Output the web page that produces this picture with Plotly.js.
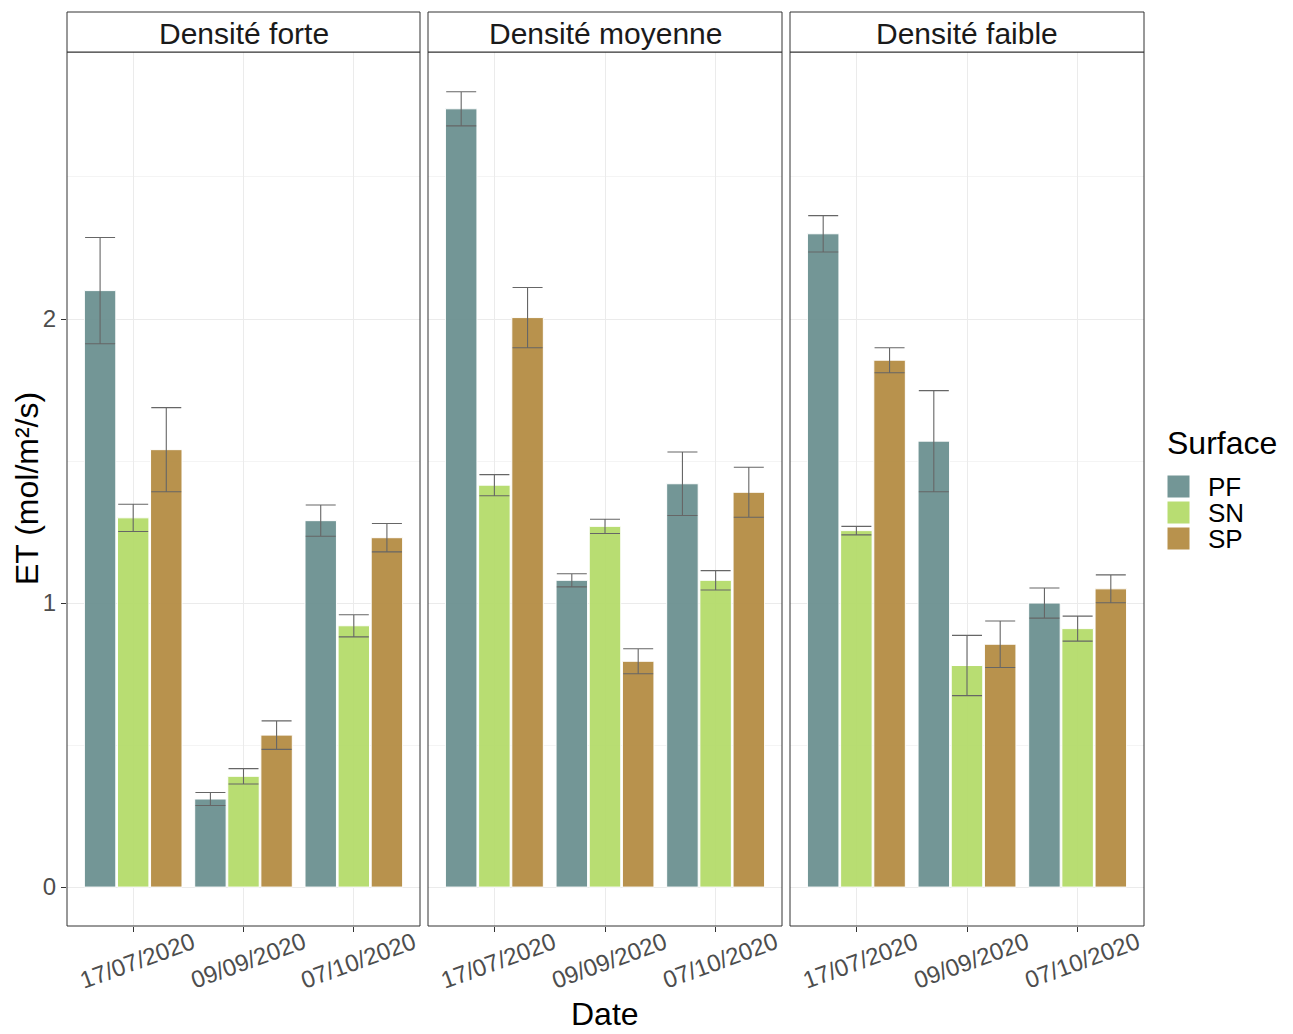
<!DOCTYPE html>
<html>
<head>
<meta charset="utf-8">
<script src="https://cdn.plot.ly/plotly-3.0.1.min.js"></script>
<style>html,body{margin:0;padding:0;background:#fff;}#chart{width:1293px;height:1034px;}</style>
</head>
<body>
<div id="chart"></div>
<script>
// ---- data ----
const panels = ["Densité forte", "Densité moyenne", "Densité faible"];
const dates = ["17/07/2020", "09/09/2020", "07/10/2020"];
const surfaces = ["PF", "SN", "SP"];
const surfaceColors = ["#6f9393", "#b6dc6e", "#b68f48"];

// means per panel: [PF, SN, SP] each over dates
const forte_PF = [2.10, 0.31, 1.29];
const forte_SN = [1.30, 0.39, 0.92];
const forte_SP = [1.54, 0.535, 1.23];
const forte_PF_se = [0.187, 0.023, 0.055];
const forte_SN_se = [0.048, 0.027, 0.039];
const forte_SP_se = [0.148, 0.050, 0.050];

const moyenne_PF = [2.74, 1.08, 1.42];
const moyenne_SN = [1.415, 1.27, 1.08];
const moyenne_SP = [2.005, 0.795, 1.39];
const moyenne_PF_se = [0.060, 0.023, 0.112];
const moyenne_SN_se = [0.037, 0.025, 0.034];
const moyenne_SP_se = [0.106, 0.044, 0.088];

const faible_PF = [2.30, 1.57, 1.00];
const faible_SN = [1.255, 0.78, 0.91];
const faible_SP = [1.855, 0.855, 1.05];
const faible_PF_se = [0.064, 0.178, 0.053];
const faible_SN_se = [0.015, 0.106, 0.044];
const faible_SP_se = [0.044, 0.082, 0.049];

const means = [
  [forte_PF, forte_SN, forte_SP],
  [moyenne_PF, moyenne_SN, moyenne_SP],
  [faible_PF, faible_SN, faible_SP]
];
const ses = [
  [forte_PF_se, forte_SN_se, forte_SP_se],
  [moyenne_PF_se, moyenne_SN_se, moyenne_SP_se],
  [faible_PF_se, faible_SN_se, faible_SP_se]
];

// ---- geometry ----
const W = 1293, H = 1034;
const plotL = 67, plotR = 1144, plotT = 52, plotB = 926;
const pw = plotR - plotL, ph = plotB - plotT;
const panelPx = [[67, 420], [428, 782], [790, 1144]];
const domains = panelPx.map(p => [(p[0] - plotL) / pw, (p[1] - plotL) / pw]);
const stripTop = 1 + (plotT - 12) / ph;
const px2x = v => (v - plotL) / pw;
const px2y = v => (plotB - v) / ph;
const FONT = "Liberation Sans, Arial, sans-serif";

const traces = [];
for (let p = 0; p < 3; p++) {
  const xa = p === 0 ? "x" : "x" + (p + 1);
  const ya = p === 0 ? "y" : "y" + (p + 1);
  for (let s = 0; s < 3; s++) {
    traces.push({
      type: "bar",
      name: surfaces[s],
      x: dates,
      y: means[p][s],
      xaxis: xa,
      yaxis: ya,
      legendgroup: surfaces[s],
      showlegend: false,
      offsetgroup: surfaces[s],
      marker: {color: surfaceColors[s], opacity: 0.97, line: {color: "#ffffff", width: 1}},
      error_y: {type: "data", array: ses[p][s], visible: true, color: "#666666", thickness: 1.1, width: 15},
      hoverinfo: "y+name"
    });
  }
}

const tickFont = {family: FONT, size: 24, color: "#4d4d4d"};
const yrange = [-0.137, 2.94];

const layout = {
  width: W, height: H,
  paper_bgcolor: "#ffffff",
  plot_bgcolor: "#ffffff",
  margin: {l: plotL, r: W - plotR, t: plotT, b: H - plotB, pad: 0},
  barmode: "group",
  bargap: 0.1,
  bargroupgap: 0.05,
  showlegend: false,
  shapes: [],
  annotations: [],
  font: {family: FONT}
};

for (let p = 0; p < 3; p++) {
  const xk = p === 0 ? "xaxis" : "xaxis" + (p + 1);
  const yk = p === 0 ? "yaxis" : "yaxis" + (p + 1);
  const xa = p === 0 ? "x" : "x" + (p + 1);
  const ya = p === 0 ? "y" : "y" + (p + 1);
  layout[xk] = {
    domain: domains[p],
    anchor: ya,
    type: "category",
    range: [-0.6, 2.6],
    showgrid: true, gridcolor: "#ebebeb", gridwidth: 1,
    zeroline: false,
    showline: false,
    ticks: "outside", ticklen: 5, tickcolor: "#333333", tickwidth: 1,
    showticklabels: false,
    fixedrange: true
  };
  layout[yk] = {
    anchor: xa,
    range: yrange,
    tick0: 0, dtick: 1,
    showgrid: true, gridcolor: "#ebebeb", gridwidth: 1,
    minor: {dtick: 0.5, tick0: 0, showgrid: true, gridcolor: "#f4f4f4", gridwidth: 1, ticks: ""},
    zeroline: false,
    showline: false,
    ticks: p === 0 ? "outside" : "",
    ticklen: 5, tickcolor: "#333333", tickwidth: 1,
    showticklabels: p === 0,
    tickfont: tickFont,
    fixedrange: true
  };
  if (p > 0) layout[yk].matches = "y";

  // rotated date labels, centred under each tick
  for (let d = 0; d < dates.length; d++) {
    layout.annotations.push({
      xref: xa, yref: "paper",
      x: dates[d], y: px2y(960),
      xanchor: "center", yanchor: "middle",
      xshift: 4,
      showarrow: false, textangle: -20,
      text: dates[d],
      font: tickFont
    });
  }

  // panel border
  layout.shapes.push({type: "rect", xref: "paper", yref: "paper",
    x0: domains[p][0], x1: domains[p][1], y0: 0, y1: 1,
    line: {color: "#333333", width: 1}, fillcolor: "rgba(0,0,0,0)", layer: "above"});
  // strip
  layout.shapes.push({type: "rect", xref: "paper", yref: "paper",
    x0: domains[p][0], x1: domains[p][1], y0: 1, y1: stripTop,
    line: {color: "#333333", width: 1}, fillcolor: "#ffffff", layer: "above"});
  layout.annotations.push({xref: "paper", yref: "paper",
    x: (domains[p][0] + domains[p][1]) / 2, y: px2y(34),
    xanchor: "center", yanchor: "middle", showarrow: false,
    text: panels[p],
    font: {family: FONT, size: 30, color: "#1a1a1a"}});
}

// y axis title
layout.annotations.push({xref: "paper", yref: "paper",
  x: px2x(27), y: px2y(489),
  xanchor: "center", yanchor: "middle", showarrow: false, textangle: -90,
  text: "ET (mol/m²/s)",
  font: {family: FONT, size: 32, color: "#000"}});

// x axis title
layout.annotations.push({xref: "paper", yref: "paper",
  x: px2x(605), y: px2y(1014),
  xanchor: "center", yanchor: "middle", showarrow: false,
  text: "Date",
  font: {family: FONT, size: 32, color: "#000"}});

// legend (drawn as shapes + text)
layout.annotations.push({xref: "paper", yref: "paper",
  x: px2x(1165), y: px2y(443),
  xanchor: "left", yanchor: "middle", showarrow: false,
  text: "Surface",
  font: {family: FONT, size: 32, color: "#000"}});
const legTops = [475, 501, 527];
for (let s = 0; s < surfaces.length; s++) {
  layout.shapes.push({type: "rect", xref: "paper", yref: "paper",
    x0: px2x(1167), x1: px2x(1190), y0: px2y(legTops[s] + 23), y1: px2y(legTops[s]),
    line: {color: "#ffffff", width: 1}, fillcolor: surfaceColors[s], opacity: 0.97});
  layout.annotations.push({xref: "paper", yref: "paper",
    x: px2x(1206), y: px2y(legTops[s] + 12),
    xanchor: "left", yanchor: "middle", showarrow: false,
    text: surfaces[s],
    font: {family: FONT, size: 26, color: "#000"}});
}

Plotly.newPlot("chart", traces, layout, {displayModeBar: false, staticPlot: true});
</script>
</body>
</html>
